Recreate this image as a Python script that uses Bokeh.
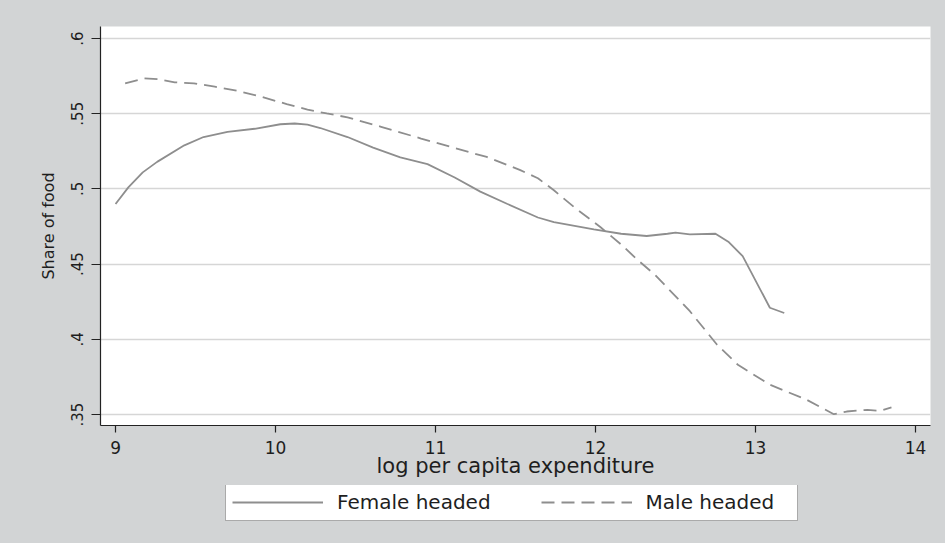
from bokeh.plotting import figure
from bokeh.layouts import column
from bokeh.models import FixedTicker, Legend, LegendItem, Range1d
from bokeh.embed import file_html
from bokeh.resources import INLINE

# ---- data ----
female_x = [9.00, 9.08, 9.17, 9.26, 9.43, 9.55, 9.70, 9.87, 10.03, 10.12, 10.20, 10.28,
            10.45, 10.61, 10.78, 10.95, 11.12, 11.28, 11.45, 11.64, 11.74, 11.99, 12.16,
            12.32, 12.45, 12.50, 12.59, 12.75, 12.83, 12.92, 13.09, 13.18]
female_y = [0.490, 0.501, 0.511, 0.518, 0.529, 0.5345, 0.538, 0.540, 0.543, 0.5435, 0.5427,
            0.5405, 0.5345, 0.5275, 0.521, 0.5165, 0.5076, 0.4982, 0.490, 0.481, 0.478,
            0.4731, 0.4702, 0.4687, 0.4702, 0.4709, 0.4698, 0.4702, 0.4649, 0.4553, 0.421,
            0.4175]

male_x = [9.06, 9.18, 9.27, 9.37, 9.49, 9.62, 9.76, 9.91, 10.07, 10.20, 10.32, 10.45, 10.66,
          10.91, 11.22, 11.32, 11.53, 11.64, 11.74, 11.87, 12.03, 12.16, 12.26, 12.37, 12.59,
          12.76, 12.89, 13.09, 13.32, 13.49, 13.57, 13.70, 13.78, 13.85]
male_y = [0.5702, 0.5735, 0.5729, 0.5709, 0.5702, 0.568, 0.5653, 0.5613, 0.5564, 0.5527,
          0.5502, 0.5476, 0.5413, 0.5335, 0.5242, 0.5213, 0.5125, 0.5071, 0.4991, 0.4876,
          0.4747, 0.4631, 0.4531, 0.4431, 0.4187, 0.3964, 0.3831, 0.3698, 0.3598, 0.3502,
          0.352, 0.3531, 0.3524, 0.3547]

x_ticks = [9, 10, 11, 12, 13, 14]
y_ticks = [0.35, 0.4, 0.45, 0.5, 0.55, 0.6]
y_tick_labels = [".35", ".4", ".45", ".5", ".55", ".6"]
series_names = ["Female headed", "Male headed"]

x_title = "log per capita expenditure"
y_title = "Share of food"

FONT = "DejaVu Sans"
BG = "#d2d4d5"
LINE = "#8e8e8e"
TXT = "#1e1e1e"
DASH = "13 7"

p = figure(width=945, height=485, output_backend="svg", toolbar_location=None,
           x_range=Range1d(8.906, 14.094), y_range=Range1d(0.3427, 0.608),
           min_border_left=100, min_border_top=26, min_border_right=15,
           min_border_bottom=60)
p.background_fill_color = "white"
p.border_fill_color = BG
p.outline_line_color = None

p.line(female_x, female_y, line_color=LINE, line_width=1.8)
p.line(male_x, male_y, line_color=LINE, line_width=1.8, line_dash=DASH)

# axes
p.xaxis.ticker = FixedTicker(ticks=x_ticks)
p.yaxis.ticker = FixedTicker(ticks=y_ticks)
p.yaxis.major_label_overrides = {t: l for t, l in zip(y_ticks, y_tick_labels)}
p.yaxis.major_label_orientation = "vertical"

for ax in (p.xaxis[0], p.yaxis[0]):
    ax.axis_line_color = "#222222"
    ax.axis_line_width = 1.2
    ax.major_tick_line_color = "#222222"
    ax.major_tick_line_width = 1.2
    ax.major_tick_in = 0
    ax.minor_tick_line_color = None
    ax.major_label_text_font = FONT
    ax.major_label_text_color = TXT
    ax.axis_label_text_font = FONT
    ax.axis_label_text_color = TXT
    ax.axis_label_text_font_style = "normal"

p.xaxis.major_tick_out = 7
p.xaxis.major_label_text_font_size = "17px"
p.xaxis.major_label_standoff = 8
p.xaxis.axis_label = x_title
p.xaxis.axis_label_text_font_size = "21px"
p.xaxis.axis_label_standoff = -3

p.yaxis.major_tick_out = 9
p.yaxis.major_label_text_font_size = "15px"
p.yaxis.major_label_standoff = 8
p.yaxis.axis_label = y_title
p.yaxis.axis_label_text_font_size = "16px"
p.yaxis.axis_label_standoff = 11

p.xgrid.grid_line_color = None
p.ygrid.grid_line_color = "#d6d6d6"
p.ygrid.grid_line_width = 1.3

# ---- legend strip (separate figure so the legend is not clipped) ----
q = figure(width=945, height=58, output_backend="svg", toolbar_location=None,
           x_axis_type=None, y_axis_type=None,
           x_range=Range1d(0, 1), y_range=Range1d(0, 1),
           min_border_left=100, min_border_right=15, min_border_top=0, min_border_bottom=0)
q.background_fill_color = None
q.border_fill_color = None
q.outline_line_color = None
q.grid.grid_line_color = None
q.styles = {"background-color": BG}
nan = float("nan")
lr1 = q.line([nan], [nan], line_color=LINE, line_width=1.8)
lr2 = q.line([nan], [nan], line_color=LINE, line_width=1.8, line_dash=DASH)

legend = Legend(items=[LegendItem(label=series_names[0], renderers=[lr1]),
                       LegendItem(label=series_names[1], renderers=[lr2])],
                orientation="horizontal", location=(125, 22))
legend.label_text_font = FONT
legend.label_text_font_size = "20px"
legend.label_text_color = TXT
legend.glyph_width = 91
legend.glyph_height = 20
legend.label_standoff = 14
legend.label_width = 145
legend.spacing = 50
legend.padding = 6
legend.margin = 0
legend.border_line_color = "#555555"
legend.border_line_width = 1.2
legend.background_fill_color = "white"
legend.background_fill_alpha = 1.0
q.add_layout(legend, "center")

layout = column(p, q, spacing=0)
layout.styles = {"background-color": BG}
open("out.html", "w").write(file_html(layout, INLINE))
